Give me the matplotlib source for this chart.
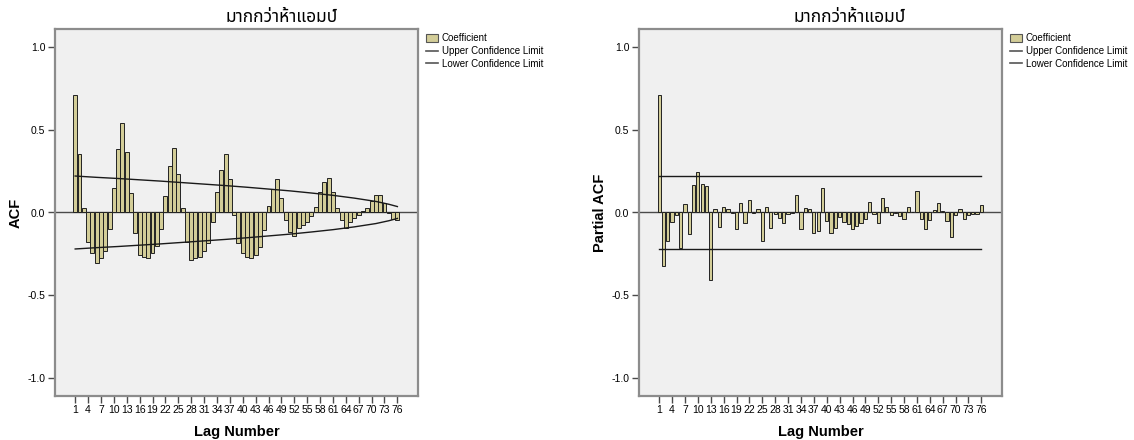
"""
ACF / PACF plots for the 'more than five amps' series (SPSS style)
"""
import logging

import matplotlib
matplotlib.use('Agg')
from matplotlib import pyplot as plt
from matplotlib.patches import Patch
from matplotlib.lines import Line2D

logging.getLogger('matplotlib.font_manager').disabled = True

TITLE = "มากกว่าห้าแอมป์"

lags = list(range(1, 77))

acf = [0.713, 0.352, 0.030, -0.176, -0.246, -0.307, -0.277, -0.236, -0.099, 0.147,
       0.382, 0.545, 0.366, 0.117, -0.125, -0.257, -0.267, -0.277, -0.246, -0.200,
       -0.099, 0.103, 0.279, 0.390, 0.234, 0.026, -0.180, -0.287, -0.277, -0.270,
       -0.236, -0.182, -0.060, 0.123, 0.259, 0.354, 0.204, -0.018, -0.182, -0.246,
       -0.267, -0.277, -0.257, -0.210, -0.109, 0.040, 0.141, 0.204, 0.087, -0.048,
       -0.121, -0.145, -0.091, -0.077, -0.057, -0.024, 0.036, 0.127, 0.184, 0.212,
       0.127, 0.030, -0.044, -0.091, -0.060, -0.034, -0.014, 0.012, 0.030, 0.071,
       0.107, 0.107, 0.060, -0.005, -0.040, -0.044]

pacf = [0.713, -0.327, -0.172, -0.055, -0.018, -0.216, 0.053, -0.129, 0.168, 0.248,
        0.174, 0.162, -0.412, 0.022, -0.085, 0.036, 0.020, -0.005, -0.097, 0.055,
        -0.063, 0.073, -0.004, 0.020, -0.172, 0.036, -0.091, -0.010, -0.034, -0.065,
        -0.008, -0.004, 0.107, -0.101, 0.030, 0.022, -0.123, -0.115, 0.147, -0.053,
        -0.127, -0.091, -0.026, -0.057, -0.067, -0.099, -0.081, -0.063, -0.040, 0.065,
        -0.010, -0.063, 0.089, 0.034, -0.018, -0.004, -0.020, -0.040, 0.036, 0.003,
        0.133, -0.042, -0.097, -0.046, 0.014, 0.059, 0.008, -0.050, -0.150, -0.013,
        0.019, -0.038, -0.014, -0.012, -0.008, 0.048]

# ACF confidence band (read at a few lags, band is symmetric)
acf_limit_lags = [1, 6, 11, 16, 21, 26, 31, 36, 41, 46, 51, 56, 61, 66, 71, 74, 76]
acf_limit_upper = [0.221, 0.213, 0.206, 0.198, 0.190, 0.181, 0.172, 0.163, 0.153,
                   0.142, 0.131, 0.118, 0.104, 0.087, 0.067, 0.050, 0.036]
pacf_limit = 0.222

tick_lags = list(range(1, 77, 3))
y_ticks = [-1.0, -0.5, 0.0, 0.5, 1.0]

BAR_COLOR = '#d3cd98'
FRAME_COLOR = '#8c8c8c'
PLOT_BG = '#f0f0f0'

plt.rcParams['font.family'] = ['Liberation Sans', 'DejaVu Sans']
THAI_FONTS = ['Noto Sans Thai', 'Noto Serif Thai', 'Loma', 'Garuda', 'Norasi',
              'Tlwg Typist', 'Waree', 'Kinnari', 'DejaVu Sans', 'Liberation Sans']

fig = plt.figure(figsize=(11.34, 4.4), dpi=100)
W, H = 1134, 440


def px_axes(x0, x1, y0, y1):
    return fig.add_axes([x0 / W, 1 - y1 / H, (x1 - x0) / W, (y1 - y0) / H])


def style_axes(ax, ylabel):
    ax.set_facecolor(PLOT_BG)
    for s in ax.spines.values():
        s.set_color(FRAME_COLOR)
        s.set_linewidth(1.6)
    ax.axhline(0, color='#4a4a4a', linewidth=1.0, zorder=1)
    ax.set_xlim(-3.7, 80.8)
    ax.set_ylim(-1.11, 1.11)
    ax.set_xticks(tick_lags)
    ax.set_xticklabels([str(t) for t in tick_lags], fontsize=7.5)
    ax.set_yticks(y_ticks)
    ax.set_yticklabels(['%.1f' % t for t in y_ticks], fontsize=7.5)
    ax.tick_params(axis='both', direction='out', length=5, width=1.0, color='#4a4a4a', pad=2)
    ax.set_xlabel('Lag Number', fontsize=10.5, fontweight='bold', labelpad=7)
    ax.set_ylabel(ylabel, fontsize=10.5, fontweight='bold', labelpad=3)

    handles = [Patch(facecolor=BAR_COLOR, edgecolor='#555555', linewidth=0.8),
               Line2D([0], [0], color='#555555', linewidth=1.2),
               Line2D([0], [0], color='#555555', linewidth=1.2)]
    ax.legend(handles, ['Coefficient', 'Upper Confidence Limit', 'Lower Confidence Limit'],
              loc='upper left', bbox_to_anchor=(1.005, 1.005), frameon=False, fontsize=7,
              handlelength=1.3, handleheight=0.9, handletextpad=0.35, labelspacing=0.3,
              borderaxespad=0.2)


# left: ACF
ax1 = px_axes(55, 418, 29.3, 395.7)
ax1.bar(lags, acf, width=0.92, color=BAR_COLOR, edgecolor='#222222', linewidth=0.7, zorder=2)
ax1.plot(acf_limit_lags, acf_limit_upper, color='#1a1a1a', linewidth=1.0, zorder=3)
ax1.plot(acf_limit_lags, [-v for v in acf_limit_upper], color='#1a1a1a', linewidth=1.0, zorder=3)
style_axes(ax1, 'ACF')
fig.text(282 / W, 1 - 17 / H, TITLE, ha='center', va='center', fontsize=12.5, family=THAI_FONTS)

# right: PACF
ax2 = px_axes(639, 1002, 29.3, 395.7)
ax2.bar(lags, pacf, width=0.75, color=BAR_COLOR, edgecolor='#222222', linewidth=0.7, zorder=2)
ax2.plot([lags[0], lags[-1]], [pacf_limit, pacf_limit], color='#1a1a1a', linewidth=1.0, zorder=3)
ax2.plot([lags[0], lags[-1]], [-pacf_limit, -pacf_limit], color='#1a1a1a', linewidth=1.0, zorder=3)
style_axes(ax2, 'Partial ACF')
fig.text(850 / W, 1 - 17 / H, TITLE, ha='center', va='center', fontsize=12.5, family=THAI_FONTS)

plt.savefig('out.png', dpi=100, facecolor='white')
